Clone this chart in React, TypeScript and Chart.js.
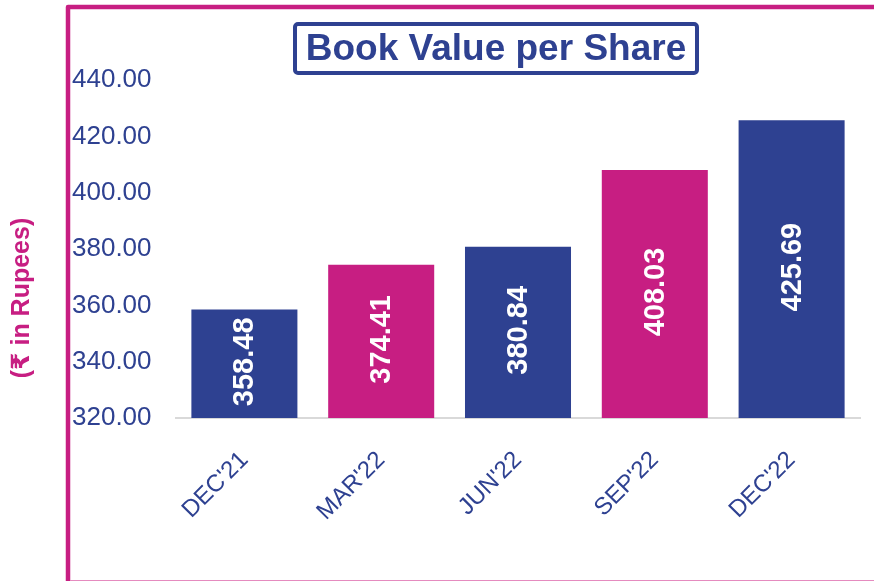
import React, { useEffect, useRef } from "react";
import { Chart, registerables } from "chart.js";

Chart.register(...registerables);

const categories = ["DEC'21", "MAR'22", "JUN'22", "SEP'22", "DEC'22"];
const values = [358.48, 374.41, 380.84, 408.03, 425.69];
const barColors = ["#2E4191", "#C71E82", "#2E4191", "#C71E82", "#2E4191"];
const yMin = 320;
const yMax = 440;
const yStep = 20;
const chartTitle = "Book Value per Share";
const yAxisTitle = "(₹ in Rupees)";

const NAVY = "#2E4191";
const MAGENTA = "#C71E82";

const framePlugin = {
  id: "frame",
  beforeDraw(chart: any) {
    const ctx = chart.ctx;
    ctx.save();
    ctx.strokeStyle = MAGENTA;
    ctx.lineWidth = 4.5;
    ctx.lineJoin = "round";
    ctx.beginPath();
    ctx.moveTo(68, 585);
    ctx.lineTo(68, 7);
    ctx.lineTo(880, 7);
    ctx.stroke();
    ctx.strokeStyle = "#E58BBF";
    ctx.lineWidth = 1;
    ctx.beginPath();
    ctx.moveTo(70, 580.5);
    ctx.lineTo(874, 580.5);
    ctx.stroke();
    ctx.strokeStyle = NAVY;
    ctx.lineWidth = 4;
    ctx.beginPath();
    (ctx as any).roundRect(295, 24, 402, 49, 3);
    ctx.stroke();
    ctx.fillStyle = NAVY;
    ctx.font = "bold 37px 'Liberation Sans', Arial, sans-serif";
    ctx.textAlign = "center";
    ctx.textBaseline = "middle";
    ctx.fillText(chartTitle, 496, 50);
    ctx.translate(22, 298);
    ctx.rotate(-Math.PI / 2);
    ctx.fillStyle = MAGENTA;
    ctx.font = "bold 25px 'Liberation Sans', 'DejaVu Sans', Arial, sans-serif";
    ctx.fillText(yAxisTitle, 0, 0);
    ctx.restore();
  },
};

const valueLabelPlugin = {
  id: "valueLabels",
  afterDatasetsDraw(chart: any) {
    const ctx = chart.ctx;
    const meta = chart.getDatasetMeta(0);
    const bottom = chart.chartArea.bottom;
    ctx.save();
    ctx.fillStyle = "#FFFFFF";
    ctx.font = "bold 29px 'Liberation Sans', Arial, sans-serif";
    ctx.textAlign = "center";
    ctx.textBaseline = "middle";
    meta.data.forEach((bar: any, i: number) => {
      const base = Math.min(bar.base, bottom);
      const cy = (bar.y + base) / 2 - 2;
      ctx.save();
      ctx.translate(bar.x + 1, cy);
      ctx.rotate(-Math.PI / 2);
      ctx.fillText(values[i].toFixed(2), 0, 0);
      ctx.restore();
    });
    ctx.restore();
  },
};

export default function App() {
  const ref = useRef<HTMLCanvasElement>(null);
  useEffect(() => {
    if (!ref.current) return;
    const chart = new Chart(ref.current, {
      type: "bar",
      data: {
        labels: categories,
        datasets: [
          {
            data: values,
            backgroundColor: barColors,
            barPercentage: 0.775,
            categoryPercentage: 1,
          },
        ],
      },
      options: {
        responsive: false,
        animation: false,
        layout: { padding: { left: 72, top: 80, right: 14, bottom: 0 } },
        plugins: { legend: { display: false }, title: { display: false }, tooltip: { enabled: false } },
        scales: {
          x: {
            grid: { display: false, drawTicks: false },
            border: { display: true, color: "#D9D9D9", width: 2 },
            ticks: {
              color: NAVY,
              font: { family: "'Liberation Sans', Arial, sans-serif", size: 24 },
              minRotation: 45,
              maxRotation: 45,
              padding: 28,
            },
            afterFit(scale: any) {
              scale.height = 163;
            },
          },
          y: {
            min: yMin,
            max: yMax,
            grid: { display: false, drawTicks: false },
            border: { display: false },
            ticks: {
              stepSize: yStep,
              color: NAVY,
              crossAlign: "far",
              font: { family: "'Liberation Sans', Arial, sans-serif", size: 26 },
              callback: (v: any) => Number(v).toFixed(2),
            },
            afterFit(scale: any) {
              scale.width = 104;
            },
          },
        },
      },
      plugins: [framePlugin, valueLabelPlugin],
    });
    return () => chart.destroy();
  }, []);
  return (
    <div style={{ position: "fixed", left: 0, top: 0, width: 874, height: 581, background: "#fff" }}>
      <canvas ref={ref} width={874} height={581} />
    </div>
  );
}
